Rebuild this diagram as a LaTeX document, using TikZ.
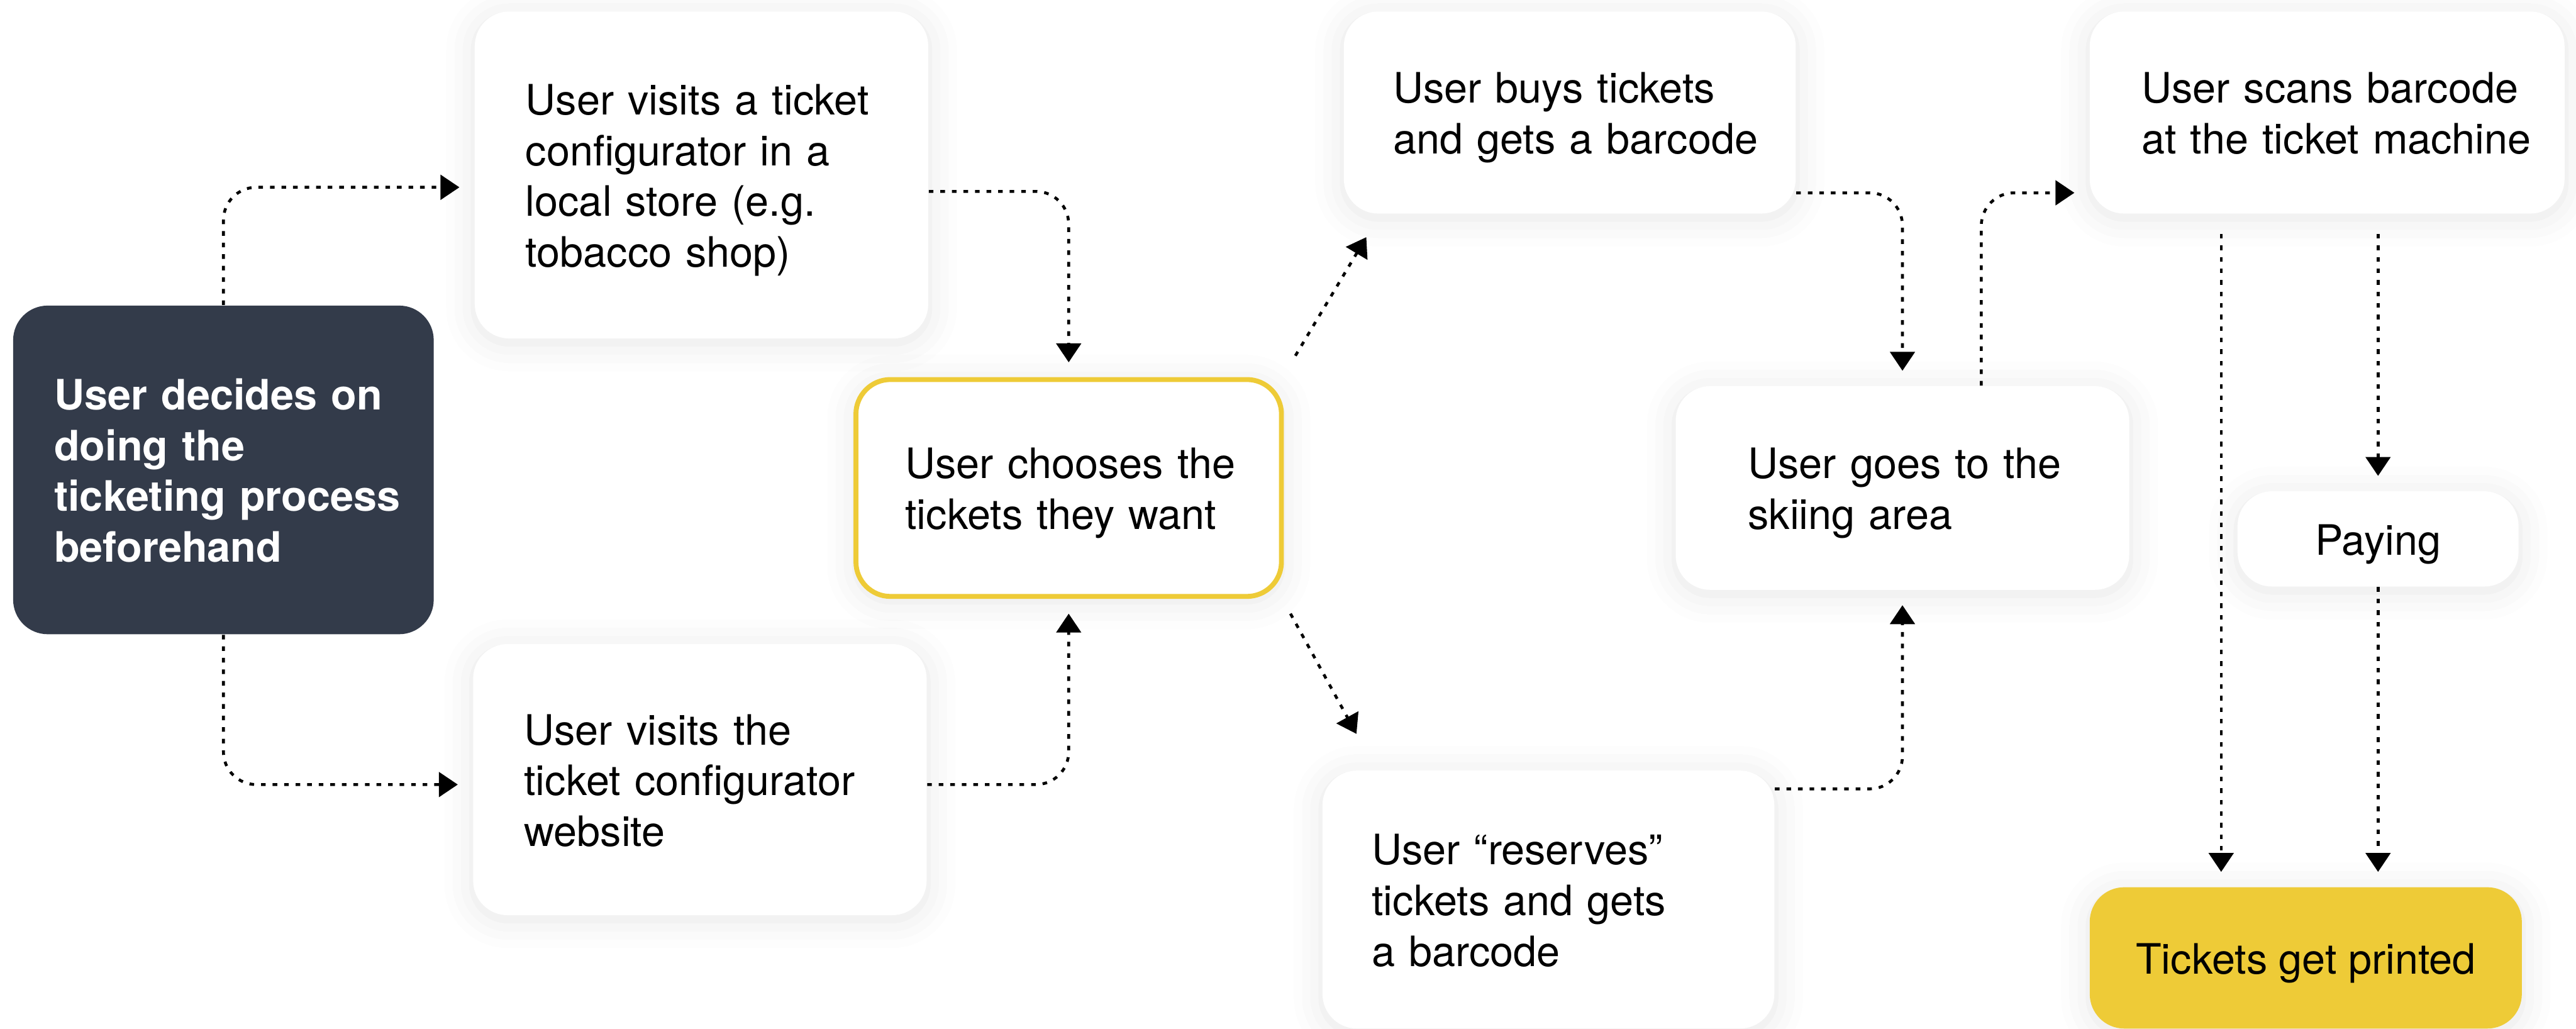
\documentclass[tikz,border=0pt]{standalone}
\usepackage{fontspec}
\setmainfont{TeX Gyre Heros}
\usetikzlibrary{arrows.meta,shadows.blur}

\definecolor{slate}{RGB}{51,59,74}
\definecolor{mustard}{RGB}{238,203,55}

% keeps the given line breaks, no wrapping or hyphens; sits a bit low
\newcommand{\rows}[1]{\raisebox{-0.07cm}[\height][\depth]{\begin{tabular}{@{}l@{}}#1\end{tabular}}}

\begin{document}
\begin{tikzpicture}[
    font=\fontsize{14.5}{17.6}\selectfont,
    box/.style={rounded corners=0.42cm, fill=white, align=left, inner ysep=0pt,
      blur shadow={shadow xshift=0pt, shadow yshift=-0.05cm,
        shadow blur radius=0.35cm, shadow opacity=10}},
    flow/.style={line width=1pt, dash pattern=on 1.6pt off 2.4pt,
      rounded corners=0.4cm, -{Triangle[length=0.23cm,width=0.3cm]},
      shorten >=0.18cm}
  ]
  \useasboundingbox (0,0) rectangle (31.36,12.52);

  \begin{scope}[every node/.style={box}]
    \node[fill=slate, text=white, blur shadow={shadow opacity=0},
      font=\fontsize{14.5}{17.6}\selectfont\bfseries,
      minimum height=4cm, text width=4.12cm, inner xsep=0.5cm] (start) at (2.72,6.8)
      {\rows{User decides on\\doing the\\ticketing process\\beforehand}};
    \node[minimum height=3.98cm, text width=4.28cm, inner xsep=0.62cm] (store) at (8.54,10.39)
      {\rows{User visits a ticket\\configurator in a\\local store (e.g.\\tobacco shop)}};
    \node[minimum height=3.3cm, text width=4.28cm, inner xsep=0.62cm] (web) at (8.52,3.03)
      {\rows{User visits the\\ticket configurator\\website}};
    \node[draw=mustard, line width=1.7pt, minimum height=2.64cm, text width=3.98cm,
      inner xsep=0.6cm] (choose) at (13.01,6.58)
      {\rows{User chooses the\\tickets they want}};
    \node[minimum height=2.46cm, text width=4.3cm, inner xsep=0.6cm] (buys) at (19.11,11.15)
      {\rows{User buys tickets\\and gets a barcode}};
    \node[minimum height=3.14cm, text width=4.3cm, inner xsep=0.6cm] (reserve) at (18.85,1.57)
      {\rows{User “reserves”\\tickets and gets\\a barcode}};
    \node[minimum height=2.48cm, text width=3.76cm, inner xsep=0.88cm] (ski) at (23.16,6.58)
      {\rows{User goes to the\\skiing area}};
    \node[minimum height=2.46cm, text width=4.52cm, inner xsep=0.63cm] (scan) at (28.33,11.15)
      {\rows{User scans barcode\\at the ticket machine}};
    \node[align=center, minimum width=3.42cm, minimum height=1.16cm] (pay) at (28.95,5.96)
      {\rows{Paying}};
    \node[fill=mustard, align=center, minimum width=5.26cm, minimum height=1.72cm] (print) at (28.07,0.86)
      {\rows{Tickets get printed}};
  \end{scope}

  \begin{scope}[every path/.style={flow}]
    \draw (start.north) |- ([yshift=-0.15cm]store.west);
    \draw (start.south) |- ([yshift=-0.06cm]web.west);
    \draw ([yshift=-0.2cm]store.east) -| (choose.north);
    \draw ([yshift=-0.06cm]web.east) -| (choose.south);
    \draw[shorten >=0pt] ([shift={(0.14,0.26)}]choose.north east)
      -- ([shift={(0.28,-0.28)}]buys.south west);
    \draw[shorten >=0pt] ([shift={(0.08,-0.18)}]choose.south east)
      -- ([shift={(0.42,0.44)}]reserve.north west);
    \draw ([yshift=0.26cm]buys.south east) -| (ski.north);
    \draw ([yshift=-0.23cm]reserve.north east) -| (ski.south);
    \draw ([xshift=0.96cm]ski.north) |- ([yshift=0.26cm]scan.south west);
    \draw[shorten <=0.24cm] ([xshift=-1.29cm]scan.south)
      -- ([xshift=-1.29cm]scan.south |- print.north);
    \draw[shorten <=0.24cm] (scan.south -| pay.north) -- (pay.north);
    \draw (pay.south) -- (pay.south |- print.north);
  \end{scope}

\end{tikzpicture}
\end{document}
